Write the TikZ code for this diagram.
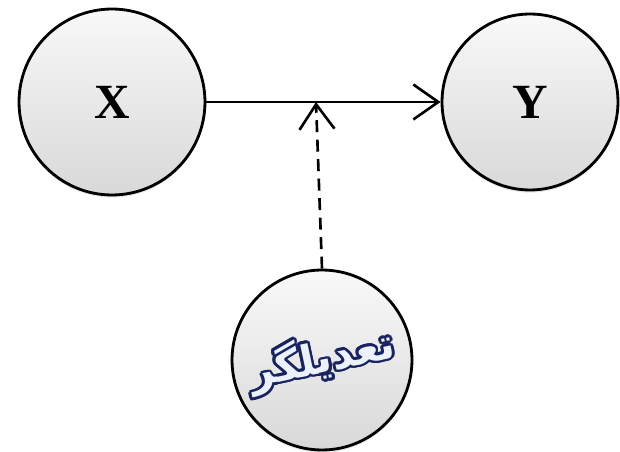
\documentclass[tikz,border=0pt]{standalone}
\usepackage{fontspec}
\setmainfont{Liberation Serif}
\newfontfamily\arabicfont[Script=Arabic]{DejaVu Sans}
\TeXXeTstate=1
\usepackage{contour}
\usepackage{tikz}
\usetikzlibrary{arrows.meta,positioning,shadows}
\definecolor{inkblue}{RGB}{25,35,95}
\definecolor{paleblue}{RGB}{236,242,252}

\begin{document}
\begin{tikzpicture}[x=0.02cm,y=-0.02cm,
    var/.style={circle,draw,line width=1.6pt,top color=gray!5,bottom color=gray!30,
      drop shadow={opacity=0.18,shadow xshift=0pt,shadow yshift=-1.5pt},
      inner sep=0pt,font=\fontsize{28}{30}\selectfont\bfseries},
    link/.style={line width=1.5pt,-{Straight Barb[length=5mm,width=7mm,line width=1.5pt]}}]
	  \useasboundingbox (0,0) rectangle (620,452);
	  % Draw the three variables
	  \node (x) [var,minimum size=3.72cm] at (112,102) {X};
	  \node (y) [var,minimum size=3.52cm] at (530,102) {Y};
	  \node (mod) [var,minimum size=3.6cm] at (322,360)
	      {\contourlength{1.5pt}\rotatebox{12}{\arabicfont\fontsize{24}{26}\selectfont
	       \contour{inkblue}{\textcolor{paleblue}{\beginR تعدیلگر\endR}}}};
	  % Draw the direct effect
	  \draw [link] (x.east) -- (y.west);
	  % Moderator points at the middle of the arrow
	  \coordinate (m) at (316,102);
	  \draw [link,dash pattern=on 2.4mm off 1.5mm] (mod.north) -- (m);
      \end{tikzpicture}
\end{document}
